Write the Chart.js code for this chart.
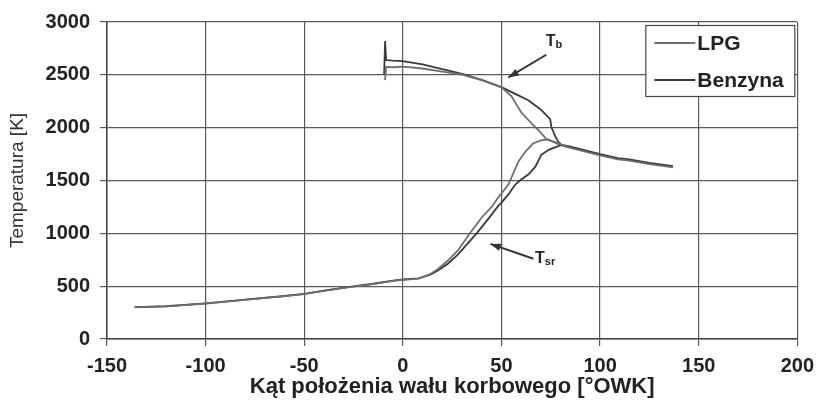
<!DOCTYPE html>
<html>
<head>
<meta charset="utf-8">
<script src="https://cdn.jsdelivr.net/npm/chart.js@4/dist/chart.umd.min.js"></script>
<style>
  html, body { margin: 0; padding: 0; background: #fff; }
  #wrap { width: 822px; height: 400px; }
</style>
</head>
<body>
<div id="wrap"><canvas id="myChart" width="822" height="400"></canvas></div>
<script>
// T_sr (srednia) - LPG
const tsrLpgX = [-136, -120, -100, -80, -60, -50, -40, -27, -15, -5, 0, 8, 14, 18, 23, 28, 34, 40, 45, 48, 53.5, 58.6, 62, 66, 70, 73.5];
const tsrLpgY = [300, 308, 335, 370, 405, 425, 455, 490, 520, 550, 560, 572, 615, 665, 745, 840, 1000, 1150, 1250, 1330, 1462, 1680, 1770, 1850, 1880, 1888];
// T_sr - Benzyna
const tsrBenX = [-136, -120, -100, -80, -60, -50, -40, -27, -15, -5, 0, 8, 14, 18, 23, 28, 37.4, 43, 48, 50, 53.5, 57, 60, 63.6, 67.2, 70.2, 74, 77.8, 80.5];
const tsrBenY = [302, 310, 337, 372, 407, 428, 458, 493, 523, 553, 563, 574, 610, 650, 715, 800, 1000, 1130, 1250, 1290, 1368, 1462, 1510, 1556, 1631, 1743, 1790, 1818, 1836];
// T_b (strefa spalin) - LPG
const tbLpgX = [-9, -8.5, -5, 0, 10, 20, 30, 40, 50, 55, 60, 65, 68.7, 72.7, 79.8];
const tbLpgY = [2450, 2575, 2572, 2577, 2560, 2530, 2502, 2450, 2381, 2300, 2146, 2045, 1978, 1893, 1837];
// T_b - Benzyna
const tbBenX = [-9.5, -9, -8.5, -5, 0, 10, 20, 30, 40, 50, 57, 63.6, 70, 74.7, 75.3, 77, 78.8, 80.5];
const tbBenY = [2500, 2820, 2640, 2634, 2630, 2600, 2555, 2508, 2452, 2383, 2320, 2259, 2170, 2081, 2006, 1930, 1865, 1836];
// wspolny koniec (po zlaczeniu)
const tailX = [84, 90, 100, 109, 114, 125, 137];
const tailLpg = [1813, 1786, 1738, 1700, 1690, 1655, 1625];
const tailBen = [1825, 1798, 1750, 1712, 1702, 1667, 1637];

const xTicks = [-150, -100, -50, 0, 50, 100, 150, 200];
const yTicks = [0, 500, 1000, 1500, 2000, 2500, 3000];

const lpgColor = '#6e6e6e';
const benColor = '#3a3a3a';
const fontFam = 'Arial, "Liberation Sans"';

function pts(xs, ys) {
    return xs.map((x, i) => ({ x: x, y: ys[i] }));
}

// etykiety Tb i Tsr ze strzalkami (wspolrzedne w jednostkach osi)
const notes = [
    { text: 'T', sub: 'b', x: 72.5, y: 2830, ax1: 72.7, ay1: 2690, ax2: 53.5, ay2: 2475 },
    { text: 'T', sub: 'sr', x: 67.0, y: 775, ax1: 66.2, ay1: 760, ax2: 44.4, ay2: 900 }
];

const notesPlugin = {
    id: 'notes',
    afterDatasetsDraw(chart) {
        const c = chart.ctx;
        const xs = chart.scales.x, ys = chart.scales.y;
        c.save();
        notes.forEach(n => {
            const x1 = xs.getPixelForValue(n.ax1), y1 = ys.getPixelForValue(n.ay1);
            const x2 = xs.getPixelForValue(n.ax2), y2 = ys.getPixelForValue(n.ay2);
            c.strokeStyle = '#333';
            c.fillStyle = '#333';
            c.lineWidth = 2;
            c.beginPath();
            c.moveTo(x1, y1);
            c.lineTo(x2, y2);
            c.stroke();
            const a = Math.atan2(y2 - y1, x2 - x1);
            c.beginPath();
            c.moveTo(x2, y2);
            c.lineTo(x2 - 11 * Math.cos(a - 0.35), y2 - 11 * Math.sin(a - 0.35));
            c.lineTo(x2 - 11 * Math.cos(a + 0.35), y2 - 11 * Math.sin(a + 0.35));
            c.closePath();
            c.fill();
            const tx = xs.getPixelForValue(n.x), ty = ys.getPixelForValue(n.y);
            c.fillStyle = '#222';
            c.textBaseline = 'alphabetic';
            c.textAlign = 'left';
            c.font = 'bold 16px ' + fontFam;
            c.fillText(n.text, tx, ty + 6);
            const w = c.measureText(n.text).width;
            c.font = 'bold 11px ' + fontFam;
            c.fillText(n.sub, tx + w, ty + 8);
        });
        c.restore();
    }
};

// legenda w ramce wewnatrz wykresu
const boxLegend = {
    id: 'boxLegend',
    afterDraw(chart) {
        const c = chart.ctx;
        const a = chart.chartArea;
        const items = chart.data.datasets.filter(d => d.inLegend);
        const bw = 149, bh = 71;
        const bx = a.right - 3 - bw, by = a.top + 3;
        c.save();
        c.fillStyle = '#fff';
        c.fillRect(bx, by, bw, bh);
        c.strokeStyle = '#444';
        c.lineWidth = 1.2;
        c.strokeRect(bx + 0.5, by + 0.5, bw, bh);
        items.forEach((d, i) => {
            const y = by + 18 + i * 37;
            c.strokeStyle = d.borderColor;
            c.lineWidth = 2;
            c.beginPath();
            c.moveTo(bx + 9, y);
            c.lineTo(bx + 50, y);
            c.stroke();
            c.fillStyle = '#222';
            c.font = 'bold 21px ' + fontFam;
            c.textBaseline = 'middle';
            c.fillText(d.label, bx + 52, y + 1);
        });
        c.restore();
    }
};

const lineDefaults = { showLine: true, pointRadius: 0, borderWidth: 1.8, tension: 0 };

new Chart(document.getElementById('myChart'), {
    type: 'scatter',
    data: {
        datasets: [
            Object.assign({ label: 'LPG', inLegend: true, borderColor: lpgColor, data: pts(tsrLpgX, tsrLpgY).concat(pts(tailX, tailLpg)) }, lineDefaults),
            Object.assign({ label: 'Benzyna', inLegend: true, borderColor: benColor, data: pts(tsrBenX, tsrBenY).concat(pts(tailX, tailBen)) }, lineDefaults),
            Object.assign({ label: 'LPG Tb', borderColor: lpgColor, data: pts(tbLpgX, tbLpgY).concat(pts(tailX.slice(0, 1), tailLpg.slice(0, 1))) }, lineDefaults),
            Object.assign({ label: 'Benzyna Tb', borderColor: benColor, data: pts(tbBenX, tbBenY) }, lineDefaults)
        ]
    },
    plugins: [notesPlugin, boxLegend],
    options: {
        responsive: false,
        animation: false,
        layout: { padding: { top: 18, right: 21, left: 0, bottom: 0 } },
        plugins: { legend: { display: false }, tooltip: { enabled: false } },
        scales: {
            x: {
                type: 'linear',
                min: -150,
                max: 200,
                afterBuildTicks: s => { s.ticks = xTicks.map(v => ({ value: v })); },
                afterFit: s => { s.height = 61; },
                grid: { color: '#5a5a5a', lineWidth: 1.2, tickLength: 7 },
                border: { color: '#444', width: 1.5 },
                ticks: { color: '#222', padding: 8, callback: v => String(v), font: { family: fontFam, size: 20, weight: 'bold' } },
                title: {
                    display: true,
                    text: 'Kąt położenia wału korbowego [°OWK]',
                    color: '#222',
                    padding: { top: 0, bottom: 0 },
                    font: { family: fontFam, size: 22, weight: 'bold' }
                }
            },
            y: {
                type: 'linear',
                min: 0,
                max: 3000,
                afterBuildTicks: s => { s.ticks = yTicks.map(v => ({ value: v })); },
                afterFit: s => { s.width = 107; },
                grid: { color: '#5a5a5a', lineWidth: 1.2, tickLength: 7 },
                border: { color: '#444', width: 1.5 },
                ticks: { color: '#222', padding: 10, callback: v => String(v), font: { family: fontFam, size: 20, weight: 'bold' } },
                title: {
                    display: true,
                    text: 'Temperatura [K]',
                    color: '#333',
                    padding: { top: 6, bottom: 0 },
                    font: { family: fontFam, size: 19 }
                }
            }
        }
    }
});
</script>
</body>
</html>
